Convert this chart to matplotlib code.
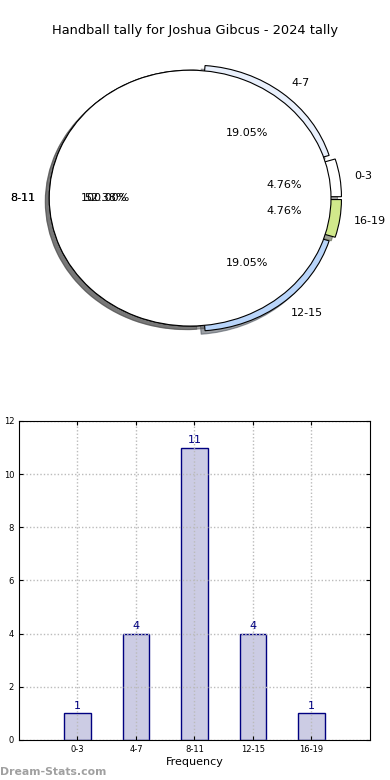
import numpy as np
import matplotlib.pyplot as plt

title = 'Handball tally for Joshua Gibcus - 2024 tally'
labels = ['0-3', '4-7', '8-11', '12-15', '16-19']
counts = [1, 4, 11, 4, 1]
pie_colors = ['white', '#e9f0fc', 'white', '#b9d5fa', '#d1e98b']
explode = [0.075, 0.05, 0, 0.05, 0.075]
big = 2  # index of the 8-11 slice, drawn again on top as a whole circle

fig = plt.figure(figsize=(3.9, 7.8), dpi=100)

# pie chart
ax1 = fig.add_axes([0.036, 0.541, 0.903, 0.410])
wp = dict(edgecolor='black', linewidth=0.8)
ax1.pie(counts, labels=labels, colors=pie_colors, explode=explode,
        autopct='%.2f%%', shadow=True, startangle=0, wedgeprops=wp,
        textprops=dict(fontsize=8))
ax1.pie([counts[big]], labels=[labels[big]], colors=['white'],
        autopct='%.2f%%', shadow=True, startangle=0, wedgeprops=wp,
        textprops=dict(fontsize=8))
ax1.set_aspect('auto')
ax1.set_xlim(-1.25, 1.25)
ax1.set_ylim(-1.25, 1.25)
fig.text(0.5, 0.961, title, ha='center', va='center', fontsize=9.4)

# bar chart
ax2 = fig.add_axes([0.0487, 0.0513, 0.9, 0.409])
x = np.arange(1, len(labels) + 1)
ax2.bar(x, counts, width=0.45, color='#ccccE4', edgecolor='navy', linewidth=1)
for xi, v in zip(x, counts):
    ax2.text(xi, v + 0.1, str(v), ha='center', va='bottom', color='navy', fontsize=8)
ax2.set_xlim(0, 6)
ax2.set_ylim(0, 12)
ax2.set_xticks(x)
ax2.set_xticklabels(labels)
ax2.set_yticks(range(0, 13, 2))
ax2.grid(True, linestyle=(0, (1, 1.5)), color='#bbbbbb', linewidth=1)
ax2.tick_params(direction='in', top=True, right=True, labelsize=6, length=3)
ax2.set_xlabel('Frequency', fontsize=8, labelpad=2)
ax2.set_ylabel('Stat Total Tally', fontsize=8, labelpad=6)

fig.text(0.0, 0.004, 'Dream-Stats.com', color='#a0a0a0', fontsize=7.8,
         fontweight='bold', ha='left', va='bottom')

fig.savefig('out.png', dpi=100)
